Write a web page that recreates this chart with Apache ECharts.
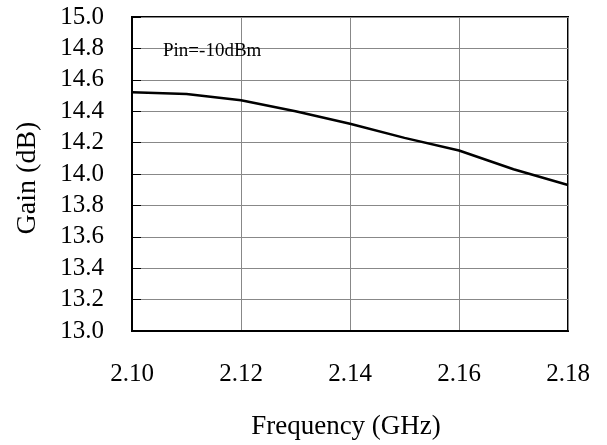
<!DOCTYPE html>
<html><head><meta charset="utf-8">
<script src="https://cdn.jsdelivr.net/npm/echarts@6/dist/echarts.min.js"></script>
<style>html,body{margin:0;padding:0;background:#fff}#c{width:607px;height:445px}</style>
</head><body><div id="c"></div>
<script>
var frequency = [2.10, 2.11, 2.12, 2.13, 2.14, 2.15, 2.16, 2.17, 2.18];
var gain = [14.52, 14.51, 14.47, 14.40, 14.32, 14.23, 14.15, 14.03, 13.93];
var xTitle = 'Frequency (GHz)';
var yTitle = 'Gain (dB)';
var note = 'Pin=-10dBm';

var font = 'Liberation Serif';
var chart = echarts.init(document.getElementById('c'));
chart.setOption({
  animation: false,
  backgroundColor: '#fff',
  title: {text: note, left: 158, top: 37, textStyle: {fontFamily: font, fontSize: 19, fontWeight: 'normal', color: '#000'}},
  grid: {left: 132, right: 39, top: 17, bottom: 112, show: true, borderColor: '#000', borderWidth: 2, containLabel: false},
  xAxis: {
    type: 'value', min: 2.10, max: 2.18, interval: 0.02,
    name: xTitle, nameLocation: 'middle', nameGap: 82,
    nameTextStyle: {fontFamily: font, fontSize: 27, color: '#000', padding: [0, 8, 0, 0]},
    axisLine: {show: true, lineStyle: {color: '#000', width: 2}},
    axisTick: {show: false},
    axisLabel: {fontFamily: font, fontSize: 25, color: '#000', margin: 31, formatter: function(v){return v.toFixed(2);}},
    splitLine: {show: true, lineStyle: {color: '#888', width: 1}}
  },
  yAxis: {
    type: 'value', min: 13.0, max: 15.0, interval: 0.2,
    name: yTitle, nameLocation: 'middle', nameGap: 90, nameRotate: 90,
    nameTextStyle: {fontFamily: font, fontSize: 28, color: '#000', padding: [0, 8, 0, 0]},
    axisLine: {show: true, lineStyle: {color: '#000', width: 2}},
    axisTick: {show: true, inside: true, length: 9, lineStyle: {color: '#000', width: 1}},
    axisLabel: {fontFamily: font, fontSize: 25, color: '#000', margin: 28, formatter: function(v){return v.toFixed(1);}},
    splitLine: {show: true, lineStyle: {color: '#888', width: 1}}
  },
  series: [{
    type: 'line', data: frequency.map(function(f,i){return [f, gain[i]];}),
    showSymbol: false, lineStyle: {color: '#000', width: 2.5}
  }]
});
</script></body></html>
